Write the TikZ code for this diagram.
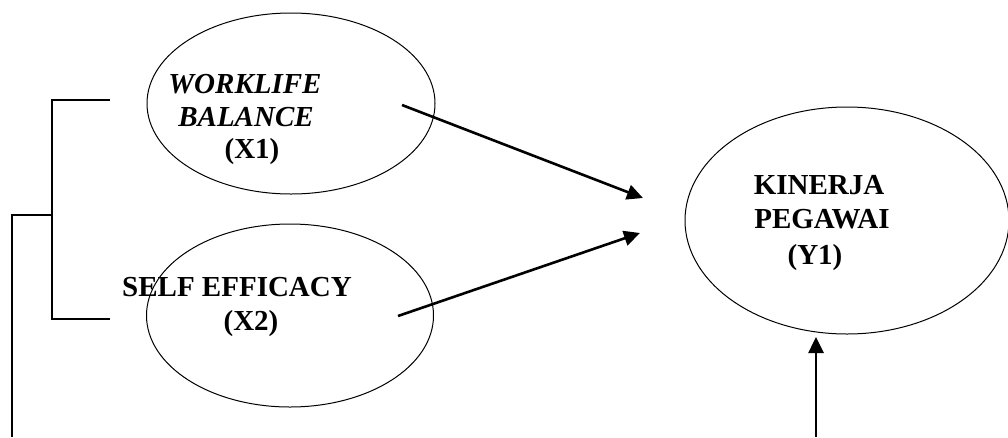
\documentclass[tikz,border=0pt]{standalone}
\usepackage{fontspec}
\setmainfont{Liberation Serif}
\usetikzlibrary{shapes.geometric,arrows.meta}
\tikzset{
  oval/.style={draw, ellipse, line width=1pt, inner sep=0pt},
  lbl/.style={anchor=base, inner sep=0pt, font=\fontsize{29}{33}\selectfont\bfseries},
  ilbl/.style={lbl, font=\fontsize{29}{33}\selectfont\bfseries\itshape},
  conn/.style={line width=2.6pt},
  arr/.style={line width=2.6pt, -{Triangle[length=16pt,width=15pt]}}
}
\begin{document}
\begin{tikzpicture}[x=1pt,y=-1pt]
\useasboundingbox (0,0) rectangle (1008,437);
% ellipses
\node[oval, minimum width=288pt, minimum height=181pt] (x1) at (291,103.5) {};
\node[oval, minimum width=287pt, minimum height=183pt] (x2) at (290,315.5) {};
\node[oval, minimum width=324pt, minimum height=227pt] (y1) at (847,220.5) {};
% labels
\node[ilbl] (t1a) at (245,93) {WORKLIFE};
\node[ilbl] (t1b) at (246,126) {BALANCE};
\node[lbl] (t1c) at (252,158) {(X1)};
\node[lbl] (t2a) at (237,296) {SELF EFFICACY};
\node[lbl] (t2b) at (251,330) {(X2)};
\node[lbl] (t3a) at (819,194) {KINERJA};
\node[lbl] (t3b) at (822,228) {PEGAWAI};
\node[lbl] (t3c) at (815,264) {(Y1)};
% coordinates
\coordinate (b1) at (110,100);
\coordinate (b2) at (52,100);
\coordinate (b3) at (52,319);
\coordinate (b4) at (110,319);
\coordinate (b5) at (52,215);
\coordinate (b6) at (12,215);
\coordinate (b7) at (12,437);
\coordinate (a1s) at (402,105);
\coordinate (a1e) at (643,198);
\coordinate (a2s) at (398,316);
\coordinate (a2e) at (640,233);
\coordinate (a3s) at (816,437);
\coordinate (a3e) at (816,337);
% bracket
\draw[conn] (b1) -- (b2) -- (b3) -- (b4);
\draw[conn] (b5) -- (b6) -- (b7);
% arrows
\draw[arr] (a1s) -- (a1e);
\draw[arr] (a2s) -- (a2e);
\draw[arr] (a3s) -- (a3e);
\end{tikzpicture}
\end{document}
